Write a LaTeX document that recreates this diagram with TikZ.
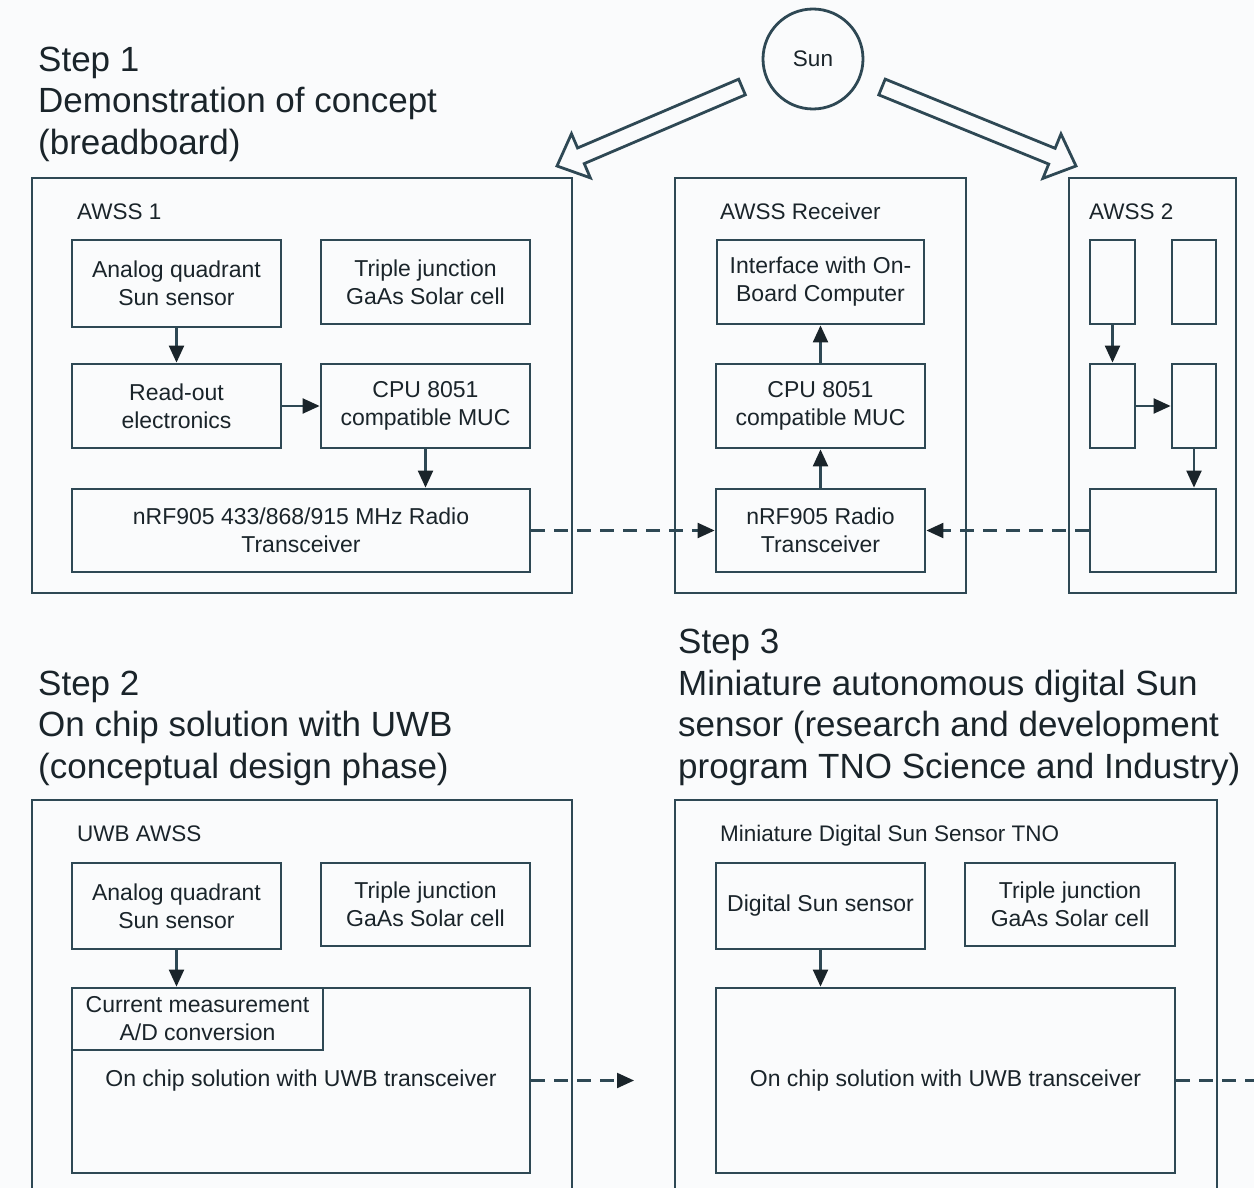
\documentclass[tikz,border=0pt]{standalone}
\usepackage{fontspec}
\setmainfont{Liberation Sans}
\usetikzlibrary{arrows.meta,calc}
\definecolor{ln}{RGB}{46,72,84}
\definecolor{tx}{RGB}{26,36,42}
\definecolor{bg}{RGB}{250,251,252}
\begin{document}
\begin{tikzpicture}[x=1pt,y=-1pt,
  box/.style={draw=ln, line width=2.8pt, inner sep=0pt, align=center,
    font=\fontsize{23}{28}\selectfont, text=tx},
  outerbox/.style={draw=ln, line width=2.8pt, inner sep=0pt},
  title/.style={anchor=base west, inner sep=0pt, font=\fontsize{35}{41}\selectfont, text=tx},
  lab/.style={anchor=base west, inner sep=0pt, font=\fontsize{22.5}{28}\selectfont, text=tx},
  arr/.style={draw=ln, line width=2.2pt, -{Triangle[length=17pt,width=15pt,color=tx]}},
  dasharr/.style={arr, dash pattern=on 14pt off 9pt},
  hollow/.style={draw=ln, line width=2.8pt, line join=miter, fill=bg}]
\clip (0,0) rectangle (1254,1188);
\fill[bg] (0,0) rectangle (1254,1188);

% ---- Titles
\node[title] (t1a) at (38,72) {Step 1};
\node[title] (t1b) at (38,113) {Demonstration of concept};
\node[title] (t1c) at (38,155) {(breadboard)};
\node[title] (t2a) at (38,695) {Step 2};
\node[title] (t2b) at (38,736) {On chip solution with UWB};
\node[title] (t2c) at (38,778) {(conceptual design phase)};
\node[title] (t3a) at (678,653) {Step 3};
\node[title] (t3b) at (678,695) {Miniature autonomous digital Sun};
\node[title] (t3c) at (678,736) {sensor (research and development};
\node[title] (t3d) at (678,778) {program TNO Science and Industry)};

% ---- Sun and hollow arrows
\node[circle, draw=ln, line width=2.8pt, minimum size=100pt, inner sep=0pt,
  font=\fontsize{22.5}{28}\selectfont, text=tx] (sun) at (813,59) {Sun};
\coordinate (lt) at (557,166);
\coordinate (ls) at (742,87);
\coordinate (lb) at ($(lt)!26pt!(ls)$);
\draw[hollow] (lt) -- ($(lb)!24pt!90:(lt)$) -- ($(lb)!8.5pt!90:(lt)$)
  -- ($(ls)!8.5pt!90:(lt)$) -- ($(ls)!8.5pt!-90:(lt)$)
  -- ($(lb)!8.5pt!-90:(lt)$) -- ($(lb)!24pt!-90:(lt)$) -- cycle;
\coordinate (rt) at (1076,166);
\coordinate (rs) at (882,87);
\coordinate (rb) at ($(rt)!26pt!(rs)$);
\draw[hollow] (rt) -- ($(rb)!24pt!90:(rt)$) -- ($(rb)!8.5pt!90:(rt)$)
  -- ($(rs)!8.5pt!90:(rt)$) -- ($(rs)!8.5pt!-90:(rt)$)
  -- ($(rb)!8.5pt!-90:(rt)$) -- ($(rb)!24pt!-90:(rt)$) -- cycle;

% ---- AWSS 1
\node[outerbox, minimum width=540, minimum height=415] (o1) at (302,385.5) {};
\node[lab] (l1) at (77,219) {AWSS 1};
\node[box, minimum width=209, minimum height=87] (aq1) at (176.5,283.5) {Analog quadrant\\Sun sensor};
\node[box, minimum width=209, minimum height=84] (tj1) at (425.5,282) {Triple junction\\GaAs Solar cell};
\node[box, minimum width=209, minimum height=84] (ro1) at (176.5,406) {Read-out\\electronics};
\node[box, minimum width=209, minimum height=84] (cpu1) at (425.5,406) {CPU 8051\\compatible MUC};
\node[box, minimum width=458, minimum height=83] (rf1) at (301,530.5) {nRF905 433/868/915 MHz Radio\\Transceiver};
\draw[arr] (aq1) -- (ro1);
\draw[arr] (ro1) -- (cpu1);
\draw[arr] (cpu1.south) -- (cpu1.south |- rf1.north);

% ---- AWSS Receiver
\node[outerbox, minimum width=291, minimum height=415] (o2) at (820.5,385.5) {};
\node[lab] (l2) at (720,219) {AWSS Receiver};
\node[box, minimum width=207, minimum height=84] (if2) at (820.5,282) {Interface with On-\\Board Computer};
\node[box, minimum width=209, minimum height=84] (cpu2) at (820.5,406) {CPU 8051\\compatible MUC};
\node[box, minimum width=209, minimum height=83] (rf2) at (820.5,530.5) {nRF905 Radio\\Transceiver};
\draw[arr] (rf2) -- (cpu2);
\draw[arr] (cpu2) -- (if2);

% ---- AWSS 2
\node[outerbox, minimum width=167, minimum height=415] (o3) at (1152.5,385.5) {};
\node[lab] (l3) at (1089,219) {AWSS 2};
\node[box, minimum width=45, minimum height=84] (a1) at (1112.5,282) {};
\node[box, minimum width=44, minimum height=84] (a2) at (1194,282) {};
\node[box, minimum width=45, minimum height=84] (a3) at (1112.5,406) {};
\node[box, minimum width=44, minimum height=84] (a4) at (1194,406) {};
\node[box, minimum width=126, minimum height=83] (a5) at (1153,530.5) {};
\draw[arr] (a1) -- (a3);
\draw[arr] (a3) -- (a4);
\draw[arr] (a4.south) -- (a4.south |- a5.north);

% ---- radio links
\draw[dasharr] (rf1) -- (rf2);
\draw[dasharr] (a5) -- (rf2);

% ---- Step 2
\node[outerbox, minimum width=540, minimum height=440] (o4) at (302,1020) {};
\node[lab] (l4) at (77,841) {UWB AWSS};
\node[box, minimum width=209, minimum height=86] (uaq) at (176.5,906) {Analog quadrant\\Sun sensor};
\node[box, minimum width=209, minimum height=83] (utj) at (425.5,904.5) {Triple junction\\GaAs Solar cell};
\node[box, minimum width=458, minimum height=185] (ubig) at (301,1080.5) {On chip solution with UWB transceiver};
\node[box, minimum width=251, minimum height=62] (ucur) at (197.5,1019) {Current measurement\\A/D conversion};
\draw[arr] (uaq.south) -- (uaq.south |- ubig.north);
\coordinate (uend) at (634,1080.5);
\draw[dasharr] (ubig) -- (uend);

% ---- Step 3
\node[outerbox, minimum width=542, minimum height=440] (o5) at (946,1020) {};
\node[lab] (l5) at (720,841) {Miniature Digital Sun Sensor TNO};
\node[box, minimum width=209, minimum height=86] (dss) at (820.5,906) {Digital Sun sensor};
\node[box, minimum width=210, minimum height=83] (tj3) at (1070,904.5) {Triple junction\\GaAs Solar cell};
\node[box, minimum width=459, minimum height=185] (big3) at (945.5,1080.5) {On chip solution with UWB transceiver};
\draw[arr] (dss.south) -- (dss.south |- big3.north);
\coordinate (tend) at (1290,1080.5);
\draw[dasharr] (big3) -- (tend);
\end{tikzpicture}
\end{document}
